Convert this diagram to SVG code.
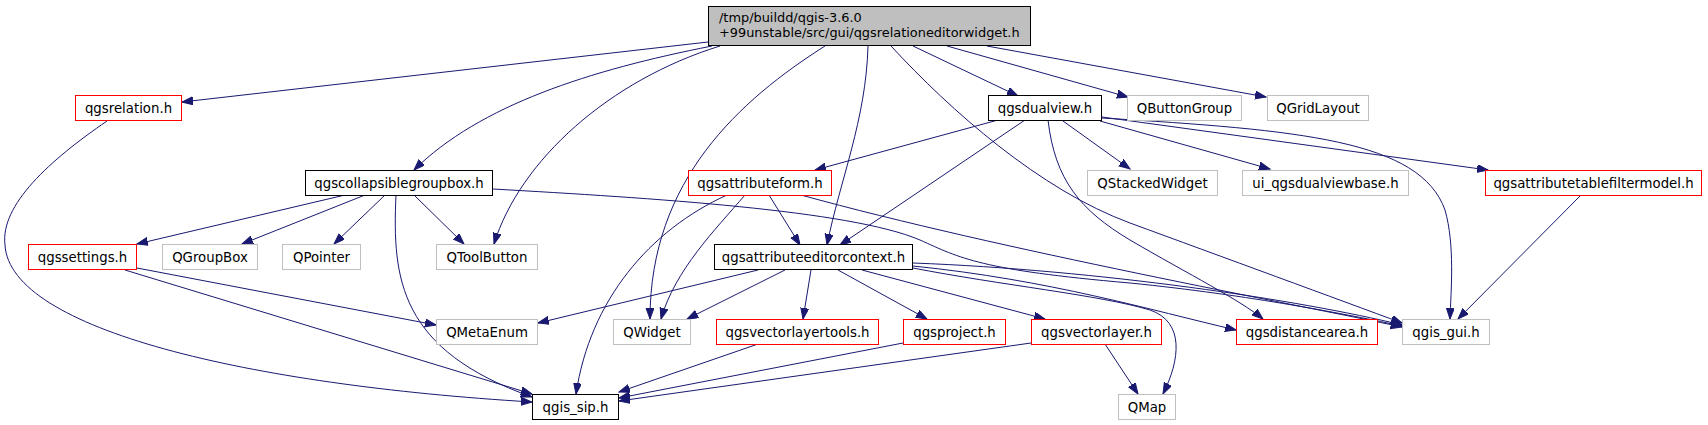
<svg xmlns="http://www.w3.org/2000/svg" width="1708" height="425" viewBox="0 0 1708 425">
<style>
.n rect{fill:#fff;stroke-width:1}
.b rect{stroke:#000}
.r rect{stroke:#f00}
.g rect{stroke:#bfbfbf}
text{font-family:"DejaVu Sans","Liberation Sans",sans-serif;font-size:13.3px;fill:#000}
#root text{font-size:12.9px}
.n text{text-anchor:middle}
#edges path{fill:none;stroke:#191970;stroke-width:1;marker-end:url(#ah)}
</style>
<defs>
<marker id="ah" markerUnits="userSpaceOnUse" markerWidth="12" markerHeight="10" refX="11" refY="4" orient="auto">
<path d="M0,0 L11,4 L0,8 z" fill="#191970" stroke="#191970" stroke-width="1"/>
</marker>
</defs>
<rect width="1708" height="425" fill="#fff"/>
<g id="edges">
<path d="M708,42 L182,102"/>
<path d="M712,46 C590,70 480,105 414,170"/>
<path d="M720,46 C610,80 520,160 494,244"/>
<path d="M825,46 C740,100 650,180 650,319"/>
<path d="M868,46 C866,120 840,180 827,245"/>
<path d="M891,46 C950,110 1040,190 1130,223 C1220,256 1340,300 1402,323"/>
<path d="M913,46 L1018,96"/>
<path d="M947,46 L1128,97"/>
<path d="M987,46 L1266,97"/>
<path d="M107,121 C50,160 0,205 5,245 C10,330 250,385 532,402"/>
<path d="M345,195 L137,244"/>
<path d="M365,195 L242,244"/>
<path d="M385,195 L334,244"/>
<path d="M414,195 L464,244"/>
<path d="M396,195 C392,280 400,350 532,397"/>
<path d="M493,189 C650,198 850,210 920,240 C960,258 980,270 1130,283 C1250,295 1350,315 1402,326"/>
<path d="M769,195 L800,245"/>
<path d="M745,195 C715,230 675,270 661,319"/>
<path d="M727,195 C650,230 590,300 576,394"/>
<path d="M801,195 C1000,250 1300,305 1402,327"/>
<path d="M998,120 L815,170"/>
<path d="M1025,120 L840,245"/>
<path d="M1048,120 C1055,180 1080,210 1130,240 C1190,275 1240,300 1263,319"/>
<path d="M1102,118 C1300,130 1420,140 1445,210 C1455,245 1451,290 1450,319"/>
<path d="M1063,121 L1130,169"/>
<path d="M1100,121 L1270,169"/>
<path d="M1102,117 L1488,170"/>
<path d="M1581,195 L1458,319"/>
<path d="M137,268 L436,325"/>
<path d="M125,270 L532,394"/>
<path d="M758,270 L538,323"/>
<path d="M785,270 L687,319"/>
<path d="M811,270 L803,319"/>
<path d="M838,270 L927,319"/>
<path d="M862,270 L1045,319"/>
<path d="M913,263 C1100,270 1300,300 1402,325"/>
<path d="M913,266 C1050,280 1150,310 1236,330"/>
<path d="M913,268 C1000,285 1100,295 1150,310 C1185,322 1180,360 1163,394"/>
<path d="M758,344 L619,392"/>
<path d="M903,343 L619,398"/>
<path d="M1031,343 L619,401"/>
<path d="M1105,344 L1138,394"/>
</g>
<g id="root"><rect x="708.5" y="6.5" width="322" height="39" fill="#bfbfbf" stroke="#000"/><text x="719" y="21.5">/tmp/buildd/qgis-3.6.0</text><text x="719" y="36.5">+99unstable/src/gui/qgsrelationeditorwidget.h</text></g>
<g id="qgsrelation" class="n r"><rect x="75.5" y="95.5" width="106" height="25"/><text x="128.5" y="112.5">qgsrelation.h</text></g>
<g id="qgsdualview" class="n b"><rect x="988.5" y="95.5" width="113" height="25"/><text x="1045" y="112.5">qgsdualview.h</text></g>
<g id="QButtonGroup" class="n g"><rect x="1127.5" y="95.5" width="114" height="25"/><text x="1184.5" y="112.5">QButtonGroup</text></g>
<g id="QGridLayout" class="n g"><rect x="1267.5" y="95.5" width="101" height="25"/><text x="1318" y="112.5">QGridLayout</text></g>
<g id="qgscollapsiblegroupbox" class="n b"><rect x="305.5" y="170.5" width="187" height="25"/><text x="399" y="187.5">qgscollapsiblegroupbox.h</text></g>
<g id="qgsattributeform" class="n r"><rect x="688.5" y="170.5" width="143" height="25"/><text x="760" y="187.5">qgsattributeform.h</text></g>
<g id="QStackedWidget" class="n g"><rect x="1087.5" y="170.5" width="130" height="25"/><text x="1152.5" y="187.5">QStackedWidget</text></g>
<g id="ui_qgsdualviewbase" class="n g"><rect x="1242.5" y="170.5" width="166" height="25"/><text x="1325.5" y="187.5">ui_qgsdualviewbase.h</text></g>
<g id="qgsattributetablefiltermodel" class="n r"><rect x="1485.5" y="170.5" width="216" height="25"/><text x="1593.5" y="187.5">qgsattributetablefiltermodel.h</text></g>
<g id="qgssettings" class="n r"><rect x="28.5" y="244.5" width="108" height="25"/><text x="82.5" y="261.5">qgssettings.h</text></g>
<g id="QGroupBox" class="n g"><rect x="162.5" y="244.5" width="95" height="25"/><text x="210" y="261.5">QGroupBox</text></g>
<g id="QPointer" class="n g"><rect x="282.5" y="244.5" width="78" height="25"/><text x="321.5" y="261.5">QPointer</text></g>
<g id="QToolButton" class="n g"><rect x="436.5" y="244.5" width="101" height="25"/><text x="487" y="261.5">QToolButton</text></g>
<g id="qgsattributeeditorcontext" class="n b"><rect x="714.5" y="244.5" width="198" height="25"/><text x="813.5" y="261.5">qgsattributeeditorcontext.h</text></g>
<g id="QMetaEnum" class="n g"><rect x="436.5" y="319.5" width="101" height="25"/><text x="487" y="336.5">QMetaEnum</text></g>
<g id="QWidget" class="n g"><rect x="613.5" y="319.5" width="77" height="25"/><text x="652" y="336.5">QWidget</text></g>
<g id="qgsvectorlayertools" class="n r"><rect x="716.5" y="319.5" width="162" height="25"/><text x="797.5" y="336.5">qgsvectorlayertools.h</text></g>
<g id="qgsproject" class="n r"><rect x="903.5" y="319.5" width="102" height="25"/><text x="954.5" y="336.5">qgsproject.h</text></g>
<g id="qgsvectorlayer" class="n r"><rect x="1031.5" y="319.5" width="130" height="25"/><text x="1096.5" y="336.5">qgsvectorlayer.h</text></g>
<g id="qgsdistancearea" class="n r"><rect x="1236.5" y="319.5" width="141" height="25"/><text x="1307" y="336.5">qgsdistancearea.h</text></g>
<g id="qgis_gui" class="n g"><rect x="1402.5" y="319.5" width="87" height="25"/><text x="1446" y="336.5">qgis_gui.h</text></g>
<g id="qgis_sip" class="n b"><rect x="532.5" y="394.5" width="86" height="25"/><text x="575.5" y="411.5">qgis_sip.h</text></g>
<g id="QMap" class="n g"><rect x="1118.5" y="394.5" width="57" height="25"/><text x="1147" y="411.5">QMap</text></g>
</svg>
